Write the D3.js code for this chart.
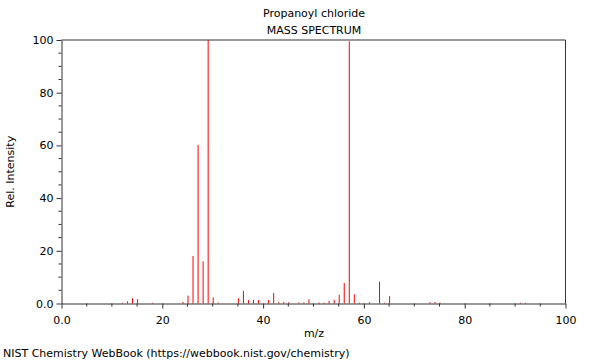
<!DOCTYPE html>
<html><head><meta charset="utf-8">
<script src="https://cdn.jsdelivr.net/npm/d3@7"></script>
<style>body{margin:0;background:#fff}svg{display:block;font-family:"DejaVu Sans",sans-serif}</style>
</head><body><svg id="c" width="600" height="360"></svg>
<script>
const mz =        [12, 13, 14, 15, 18, 24, 25, 26, 27, 28, 29, 30, 31, 35, 36, 37, 38, 39, 41, 42, 43, 44, 45, 47, 48, 49, 51, 52, 53, 54, 55, 56, 57, 58, 59, 61, 63, 64, 65, 73, 74, 75, 91, 92];
const intensity = [0.3,0.8,2.0,1.6,0.3,0.6,3.0,18.0,60.2,16.0,100,2.3,0.4,2.0,4.8,1.3,1.4,1.3,1.3,4.0,0.5,0.5,0.5,0.4,0.4,1.6,0.4,0.3,1.0,1.4,3.3,7.8,99.5,3.5,0.3,0.5,8.3,0.3,2.8,0.5,0.6,0.3,0.3,0.3];
const xTicks = [0, 20, 40, 60, 80, 100];
const yTicks = [0, 20, 40, 60, 80, 100];
const tickLabel = v => v === 0 ? "0.0" : String(v);

const svg = d3.select("#c");
const L = 62, R = 566, T = 40, B = 303.5;
const x = d3.scaleLinear().domain([0, 100]).range([L, R]);
const y = d3.scaleLinear().domain([0, 100]).range([B, T]);
const axisColor = "#333";

// peaks
svg.append("g").selectAll("line").data(mz).join("line")
  .attr("x1", (d) => x(d)).attr("x2", (d) => x(d))
  .attr("y1", y(0)).attr("y2", (d, i) => y(intensity[i]))
  .attr("stroke", "#ff0000").attr("stroke-width", 1);

// x axis
const xMinor = d3.range(0, 101, 5).filter(v => v % 20 !== 0);
const gx = svg.append("g").attr("transform", `translate(-0.5,${B})`);
gx.call(d3.axisBottom(x).tickValues(xTicks).tickFormat(tickLabel).tickSize(5).tickSizeOuter(0));
gx.append("g").selectAll("line").data(xMinor).join("line")
  .attr("x1", d => x(d)).attr("x2", d => x(d)).attr("y1", 0).attr("y2", 3).attr("stroke", axisColor);
// y axis
const yMinor = d3.range(0, 101, 5).filter(v => v % 20 !== 0);
const gy = svg.append("g").attr("transform", `translate(${L - 0.5},0)`);
gy.call(d3.axisLeft(y).tickValues(yTicks).tickFormat(tickLabel).tickSize(5).tickSizeOuter(0));
gy.append("g").selectAll("line").data(yMinor).join("line")
  .attr("y1", d => y(d)).attr("y2", d => y(d)).attr("x1", 0).attr("x2", -3).attr("stroke", axisColor);

[gx, gy].forEach(g => {
  g.selectAll(".domain").attr("stroke", axisColor);
  g.selectAll(".tick line").attr("stroke", axisColor);
  g.selectAll(".tick text").attr("fill", "#000").style("font-size", "11px").style("font-family", "DejaVu Sans");
});
gx.selectAll(".tick text").attr("dy", "1.1em");

// frame top/right
svg.append("path").attr("d", `M${L - 0.5},${T}H${R - 0.5}V${B}`).attr("fill", "none").attr("stroke", axisColor);

// texts
const cx = (L + R) / 2;
svg.append("text").attr("x", cx).attr("y", 17).attr("text-anchor", "middle").style("font-size", "11px").text("Propanoyl chloride");
svg.append("text").attr("x", cx).attr("y", 34).attr("text-anchor", "middle").style("font-size", "11px").text("MASS SPECTRUM");
svg.append("text").attr("x", cx).attr("y", 337).attr("text-anchor", "middle").style("font-size", "11px").text("m/z");
svg.append("text").attr("transform", `translate(14,${(T + B) / 2}) rotate(-90)`).attr("text-anchor", "middle").style("font-size", "11px").text("Rel. Intensity");
svg.append("text").attr("x", 3).attr("y", 357).style("font-size", "11px").text("NIST Chemistry WebBook (https://webbook.nist.gov/chemistry)");
</script></body></html>
